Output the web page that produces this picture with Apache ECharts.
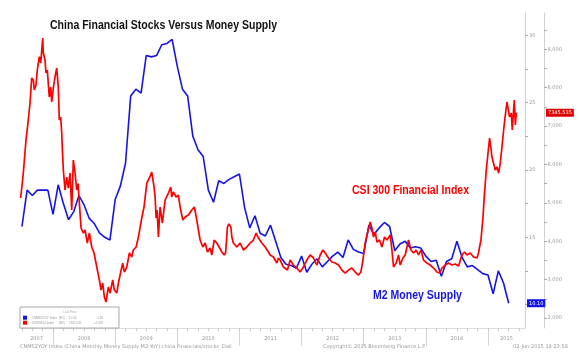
<!DOCTYPE html>
<html><head><meta charset="utf-8">
<script src="https://cdn.jsdelivr.net/npm/echarts@6/dist/echarts.min.js"></script>
<style>html,body{margin:0;padding:0;background:#fff}#c{width:580px;height:364px}</style>
</head><body><div id="c"></div>
<script>
// ---- DATA ----
const titleText = 'China Financial Stocks Versus Money Supply';
const m2Name = 'CNMS2YOY Index';
const csiName = 'SZ399914 Index';
// M2 YoY (%), monthly, plotted at month end
const m2Months = [
 '2007-06','2007-07','2007-08','2007-09','2007-10','2007-11','2007-12',
 '2008-01','2008-02','2008-03','2008-04','2008-05','2008-06','2008-07','2008-08','2008-09','2008-10','2008-11','2008-12',
 '2009-01','2009-02','2009-03','2009-04','2009-05','2009-06','2009-07','2009-08','2009-09','2009-10','2009-11','2009-12',
 '2010-01','2010-02','2010-03','2010-04','2010-05','2010-06','2010-07','2010-08','2010-09','2010-10','2010-11','2010-12',
 '2011-01','2011-02','2011-03','2011-04','2011-05','2011-06','2011-07','2011-08','2011-09','2011-10','2011-11','2011-12',
 '2012-01','2012-02','2012-03','2012-04','2012-05','2012-06','2012-07','2012-08','2012-09','2012-10','2012-11','2012-12',
 '2013-01','2013-02','2013-03','2013-04','2013-05','2013-06','2013-07','2013-08','2013-09','2013-10','2013-11','2013-12',
 '2014-01','2014-02','2014-03','2014-04','2014-05','2014-06','2014-07','2014-08','2014-09','2014-10','2014-11','2014-12',
 '2015-01','2015-02','2015-03','2015-04'];
const m2Values = [
 15.8,18.5,18.1,18.5,18.5,18.5,16.7,
 18.9,17.5,16.3,16.9,18.1,17.4,16.4,16.0,15.3,15.0,14.8,17.8,
 18.8,20.5,25.5,26.0,25.7,28.5,28.4,28.5,29.3,29.4,29.7,27.7,
 26.0,25.5,22.5,21.5,21.0,18.5,17.6,19.2,19.0,19.3,19.5,19.7,
 17.2,15.7,16.6,15.3,15.1,15.9,14.7,13.5,13.0,12.9,12.7,13.6,
 12.4,13.0,13.4,12.8,13.2,13.6,13.9,13.5,14.8,14.1,13.9,13.8,
 15.9,15.2,15.7,16.1,15.8,14.0,14.5,14.7,14.2,14.3,14.2,13.6,
 13.2,13.3,12.1,13.2,13.4,14.7,13.5,12.8,12.9,12.6,12.3,12.2,
 10.8,12.5,11.6,10.10];
// CSI 300 Financial Index, dates as decimal years
const csiDates = [
 2007.480,2007.501,2007.522,2007.565,2007.602,2007.630,2007.657,2007.683,2007.699,2007.726,2007.747,2007.779,2007.802,2007.834,2007.844,2007.871,2007.887,2007.908,2007.940,2007.963,2007.979,
 2008.005,2008.032,2008.060,2008.085,2008.101,2008.124,2008.140,2008.153,2008.166,2008.193,2008.221,2008.246,2008.274,2008.301,2008.327,2008.354,2008.382,2008.403,2008.424,2008.451,2008.488,2008.515,2008.552,2008.585,2008.623,2008.660,2008.704,2008.746,2008.773,2008.800,2008.826,2008.853,2008.890,2008.918,2008.961,2008.987,
 2009.026,2009.052,2009.090,2009.122,2009.148,2009.187,2009.229,2009.267,2009.293,2009.337,2009.374,2009.428,2009.465,2009.509,2009.551,2009.589,2009.605,2009.626,2009.643,2009.659,2009.675,2009.696,2009.723,2009.760,2009.779,2009.804,2009.857,2009.895,2009.911,2009.937,2009.981,
 2010.018,2010.045,2010.089,2010.126,2010.179,2010.233,2010.275,2010.314,2010.340,2010.367,2010.411,2010.448,2010.485,2010.528,2010.556,2010.593,2010.636,2010.673,2010.717,2010.754,2010.778,2010.807,2010.829,2010.862,2010.878,2010.903,2010.958,
 2011.011,2011.064,2011.119,2011.172,2011.225,2011.269,2011.290,2011.306,2011.361,2011.414,2011.467,2011.494,2011.548,2011.602,2011.628,2011.655,2011.709,2011.773,2011.816,2011.870,2011.924,2011.977,
 2012.031,2012.085,2012.139,2012.192,2012.246,2012.300,2012.343,2012.380,2012.433,2012.488,2012.541,2012.594,2012.649,2012.702,2012.755,2012.810,2012.863,2012.916,2012.955,2012.987,
 2013.024,2013.061,2013.105,2013.132,2013.158,2013.185,2013.213,2013.254,2013.293,2013.335,2013.374,2013.427,2013.454,2013.480,2013.523,2013.560,2013.588,2013.631,2013.668,2013.721,2013.760,2013.802,2013.845,2013.882,2013.921,2013.963,
 2014.018,2014.071,2014.124,2014.179,2014.221,2014.259,2014.312,2014.366,2014.420,2014.473,2014.527,2014.581,2014.623,2014.662,2014.715,2014.768,2014.823,2014.849,2014.865,2014.887,2014.920,2014.940,2014.973,2014.994,
 2015.026,2015.048,2015.064,2015.090,2015.118,2015.145,2015.171,2015.198,2015.225,2015.252,2015.279,2015.306,2015.322,2015.348,2015.375,2015.391,2015.412,2015.424,2015.440,2015.456];
const csiValues = [
 5125,5450,5776,6635,7156,7600,8250,8197,7937,8067,8458,8804,8640,9291,8900,8718,8380,8458,7755,8015,7625,
 7990,8276,8510,8015,7156,7234,6817,6300,5854,5333,5672,5385,5776,4813,6114,5776,5333,5500,4995,4344,4213,4292,3953,4213,3849,3693,3328,2990,2729,2911,2547,2417,2807,2651,2990,2729,
 2651,2911,3198,3432,3198,3328,3693,3589,3771,3849,4109,4604,4891,5515,5646,5802,5854,5411,5151,4604,4813,4109,4891,4474,4474,5073,5255,5411,5151,5281,5151,
 5203,4891,4552,4630,4682,4813,4891,4552,4292,4031,3849,3953,3719,3823,3641,4031,3953,3849,3719,3641,3700,4370,4450,4370,4109,3953,3849,
 3953,3771,3849,3953,4031,4213,4240,4083,3953,3849,3719,3641,3589,3432,3563,3510,3328,3250,3510,3380,3302,3198,
 3328,3510,3641,3563,3380,3641,3771,3693,3563,3458,3432,3380,3250,3172,3250,3302,3198,3120,3198,3510,
 3953,4213,4500,4344,4109,4240,3979,4031,3849,4109,4031,4161,3771,3328,3432,3641,3380,3563,3641,4031,3771,3693,3771,3641,3771,3510,
 3432,3380,3302,3198,3172,3302,3380,3432,3380,3406,3354,3641,3719,3641,3693,3589,3563,3700,3849,4031,4630,5151,5854,6193,
 6687,6427,6193,6245,5854,5932,5776,6036,6453,6896,7286,7625,7469,7234,7338,6896,7417,7677,7025,7345.535];
// axis ticks / labels
const xRange = [2007.4686, 2015.5958];
const yearTicks = [2008,2009,2010,2011,2012,2013,2014,2015];
const r1Ticks = [10,12.5,15,17.5,20,22.5,25,27.5,30];
const r1Labels = [15,20,25,30];
const r2Ticks = [2000,2500,3000,3500,4000,4500,5000,5500,6000,6500,7000,7500,8000,8500,9000,9500];
const r2Labels = [2000,3000,4000,5000,6000,7000,8000,9000];
const legendRows = {
  'CNMS2YOY Index': ['(R1)', '10.10', '-1.50'],
  'SZ399914 Index': ['(R2)', '7345.535', '+2.078']
};
const bottomLeftText = 'CNMS2YOY Index (China Monthly Money Supply M2 YoY) china Financials/stocks  Dail';
const copyrightText = 'Copyright\u00A9 2015 Bloomberg Finance L.P.';
const stampText = '02-Jun-2015 19:23:58';

// ---- BUILD ----
const monthEnd = s => { const [y, m] = s.split('-').map(Number); return y + m / 12; };
const m2Data = m2Months.map((m, i) => [monthEnd(m), m2Values[i]]);
const csiData = csiDates.map((d, i) => [d, csiValues[i]]);
const bimonth = [];
for (let y = 2007; y <= 2015; y++) for (let k = 0; k < 6; k++) { const v = y + k / 6; if (v >= xRange[0] && v <= xRange[1]) bimonth.push(v); }
const yearLabelPos = [ (xRange[0] + 2008) / 2 ].concat(yearTicks.slice(0, -1).map(y => y + 0.5)).concat([(2015 + xRange[1]) / 2]);

const BOLD = '"Liberation Sans",Arial,sans-serif';
const SMALL = '"DejaVu Sans",Verdana,sans-serif';
const TINY = '"Liberation Sans",Arial,sans-serif';
const BLUE = '#1414e6', RED = '#ff0000';
const NARROW_SCALE = 0.81;
const LG = '#9a9a9a';

const chart = echarts.init(document.getElementById('c'), null, {renderer: 'canvas'});
chart.setOption({
  animation: false,
  backgroundColor: '#fff',
  grid: { left: 20, right: 55, top: 13, bottom: 36, containLabel: false },
  legend: {
    z: 100,
    data: [m2Name, csiName], orient: 'vertical', left: 23, top: 315.7, padding: 0,
    itemWidth: 4, itemHeight: 4, itemGap: 1, icon: 'rect', selectedMode: false,
    textStyle: { fontFamily: TINY, fontSize: 3, color: LG, lineHeight: 4,
      rich: { a: {width: 27, fontSize: 3, fontFamily: TINY, color: LG}, b: {width: 10, fontSize: 3, fontFamily: TINY, color: LG},
              c: {width: 20, fontSize: 3, fontFamily: TINY, color: LG}, d: {width: 14, align: 'right', fontSize: 3, fontFamily: TINY, color: LG} } },
    formatter: n => { const r = legendRows[n]; return `{a|${n}}{b|${r[0]}}{c|${r[1]}}{d|${r[2]}}`; }
  },
  xAxis: [{
    type: 'value', min: xRange[0], max: xRange[1], position: 'bottom',
    axisLine: { show: true, lineStyle: { color: '#dcdcdc', width: 1 } },
    axisTick: { show: true, customValues: yearTicks, length: 18, lineStyle: { color: '#d4d4d4' } },
    axisLabel: { show: true, customValues: yearLabelPos, formatter: v => String(Math.floor(v + 1e-6)),
      fontFamily: SMALL, fontSize: 5, color: '#999', margin: 8 },
    splitLine: { show: false }
  }, {
    type: 'value', min: xRange[0], max: xRange[1], position: 'bottom',
    axisLine: { show: false },
    axisTick: { show: true, customValues: bimonth, length: 3, lineStyle: { color: '#c8c8c8' } },
    axisLabel: { show: false }, splitLine: { show: false }
  }],
  yAxis: [{
    type: 'value', position: 'right', min: 8.26, max: 31.66, offset: 0,
    axisLine: { show: true, lineStyle: { color: '#d0d0d0' } },
    axisTick: { show: true, customValues: r1Ticks, length: 3, lineStyle: { color: '#aaa' } },
    axisLabel: { show: true, customValues: r1Labels, fontFamily: SMALL, fontSize: 5, color: '#999', margin: 4 },
    splitLine: { show: false },
    axisPointer: { show: true, value: m2Values[m2Values.length - 1], status: 'show', triggerTooltip: false,
      lineStyle: { opacity: 0 },
      label: { show: true, formatter: p => Number(p.value).toFixed(2), backgroundColor: BLUE, color: '#fff',
        fontFamily: SMALL, fontSize: 5, padding: [1.5, 2, 1.5, 2], margin: 2, borderRadius: 0 } }
  }, {
    type: 'value', position: 'right', min: 1740, max: 9943, offset: 19,
    axisLine: { show: true, lineStyle: { color: '#d0d0d0' } },
    axisTick: { show: true, customValues: r2Ticks, length: 3, lineStyle: { color: '#aaa' } },
    axisLabel: { show: true, customValues: r2Labels, fontFamily: SMALL, fontSize: 5, color: '#999', margin: 3.5 },
    splitLine: { show: false },
    axisPointer: { show: true, value: csiValues[csiValues.length - 1], status: 'show', triggerTooltip: false,
      lineStyle: { opacity: 0 },
      label: { show: true, formatter: p => Number(p.value).toFixed(3), backgroundColor: '#e00000', color: '#fff',
        fontFamily: SMALL, fontSize: 5, padding: [1.5, 2, 1.5, 2], margin: 2, borderRadius: 0 } }
  }],
  series: [{
    name: m2Name, type: 'line', xAxisIndex: 0, yAxisIndex: 0, data: m2Data,
    showSymbol: false, symbol: 'none', color: BLUE, lineStyle: { color: BLUE, width: 1.6 }, z: 2
  }, {
    name: csiName, type: 'line', xAxisIndex: 0, yAxisIndex: 1, data: csiData,
    showSymbol: false, symbol: 'none', color: RED, lineStyle: { color: RED, width: 1.7 }, z: 3
  }],
  graphic: [
    { type: 'rect', z: 1, shape: { x: 20, y: 307, width: 99, height: 21 },
      style: { fill: '#fff', stroke: '#a8a8a8', lineWidth: 1 } },
    { type: 'text', z: 2, x: 70, y: 310.3, style: { text: 'Last Price', fill: '#aaa', font: '3px ' + TINY, align: 'center' } },
    { type: 'text', z: 60, x: 50, y: 25.2, scaleX: NARROW_SCALE,
      style: { text: titleText, fill: '#111', font: 'bold 13px ' + BOLD, verticalAlign: 'middle' } },
    { type: 'text', z: 60, x: 352, y: 190.2, scaleX: NARROW_SCALE,
      style: { text: 'CSI 300 Financial Index', fill: RED, font: 'bold 13px ' + BOLD, verticalAlign: 'middle' } },
    { type: 'text', z: 60, x: 373, y: 295.2, scaleX: NARROW_SCALE,
      style: { text: 'M2 Money Supply', fill: BLUE, font: 'bold 13px ' + BOLD, verticalAlign: 'middle' } },
    { type: 'text', left: 20, top: 344.5, style: { text: bottomLeftText, fill: '#999', font: '5px ' + SMALL } },
    { type: 'text', left: 323, top: 344.5, style: { text: copyrightText, fill: '#999', font: '5px ' + SMALL } },
    { type: 'text', left: 513, top: 344.5, style: { text: stampText, fill: '#999', font: '5px ' + SMALL } }
  ]
});
</script></body></html>
